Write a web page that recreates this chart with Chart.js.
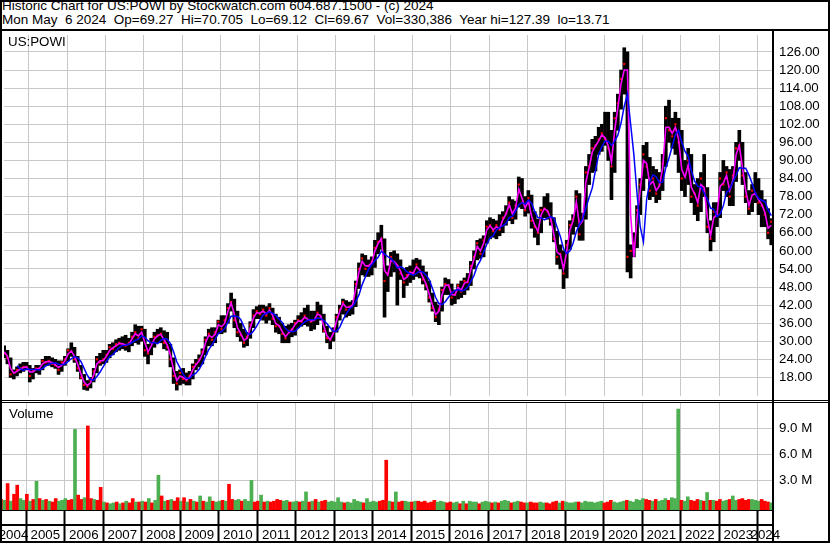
<!DOCTYPE html>
<html><head><meta charset="utf-8">
<script src="https://cdn.jsdelivr.net/npm/chart.js@4.4.1/dist/chart.umd.min.js"></script>
<style>
html,body{margin:0;padding:0;background:#fff;}
body{width:830px;height:543px;position:relative;overflow:hidden;font-family:"Liberation Sans",Arial,sans-serif;color:#000;}
.abs{position:absolute;}
#hdr{left:2px;top:-1px;font-size:13.5px;line-height:13.7px;white-space:pre;}
.lbl{font-size:13.33px;line-height:15px;white-space:pre;}
.blk{background:#000;}
</style></head><body>
<div id="hdr" class="abs">Historic Chart for US:POWI by Stockwatch.com 604.687.1500 - (c) 2024
Mon May  6 2024  Op=69.27  Hi=70.705  Lo=69.12  Cl=69.67  Vol=330,386  Year hi=127.39  lo=13.71</div>
<canvas id="pc" class="abs" width="830" height="369" style="left:0;top:31px"></canvas>
<canvas id="vc" class="abs" width="830" height="140" style="left:0;top:403px"></canvas>
<div class="abs lbl" style="left:8px;top:34px">US:POWI</div>
<div class="abs lbl" style="left:9px;top:406px">Volume</div>
<div class="abs blk" style="left:0;top:29px;width:830px;height:2px"></div>
<div class="abs blk" style="left:0;top:400px;width:830px;height:1px"></div>
<div class="abs blk" style="left:0;top:402px;width:830px;height:1px"></div>
<div class="abs blk" style="left:772px;top:29px;width:2px;height:514px"></div>
<div class="abs" style="left:0;top:0;width:830px;height:543px;border:2px solid #000;box-sizing:border-box"></div>
<script>
// ---- data (monthly, May 2004 .. May 2024) ----
const high = [
28.5,27,24.5,20.5,21.5,22.5,23,23,
22,21,22,22,24,25,25,24.5,24,23.5,23.5,25,
27.5,29.5,28,25,22,19,17,18,21,25,26,27,
27,29,29.5,30.5,31,31.5,32,31,33,35.5,35,35,
34,29,31,33,34,34.5,33.5,33,29,24.5,20,20.5,
21,19.5,20,22.5,24,25.5,27.5,31.5,34,34.5,34.5,37,
38.5,38.5,42.5,46,44,40,36,34,33,36.5,40.5,41.5,
42,42,41.5,42.5,41,39,38,36,35,35.5,36,37,
38.5,39.5,41,42,40,40,43,42,39,35,33,34.5,
39,42,44,43.5,43,43.5,50,56,59,58.5,57,58,
63.5,66,68.5,64,55,59.5,60,59,57,54,54.5,55,
57,57.5,57,55,53,50,46,43,42,48,51,50.5,
49,47,49,50,51,52.5,56.5,60,63.5,64,65,70,
71,70.5,70,72,73,75,78,77,76.5,84.5,84,78,
80,78.5,73,70.5,74.5,78,79,76,71,66.5,62,60,
63.5,70,72,80,79,72.5,88,92,97,98,101,102,
106,106,100,106,112,120,127.39,126,62,66,75,84,
95,96,91,88,87,86,92,108,110,104,106,104,
100,90,94,92,82,84,86,92,81,70,76,76,
86,90,88,87,88,96,100,96,86,80,82,86,
84,80,77,74,70.7
];
const low = [
24.5,22.5,18,17.5,18.5,19.5,20,20.5,
16.5,17.5,19.5,19,20.5,22,22,21.5,21,19,20,22,
23.5,25,23,20,17.5,14,13.71,14.5,16.5,19.5,22,22.5,
23,24.5,25.5,26.5,27,27.5,27,26.5,28.5,29.5,29,30,
25,22.5,25.5,28,29.5,29.5,27.5,27,21.5,16,13.8,15.5,
16,15.5,15.5,17.5,20.5,21.5,22.5,25.5,28.5,28.5,29.5,32.5,
32.5,33,36,40,34.5,31.5,30,28,28.5,31,34.5,37.5,
37.5,37,36,37,35.5,33,32.5,29.5,29.5,29.5,31.5,32,
34.5,35,35.5,35,33.5,34,35.5,37,33,29.5,27.5,30,
33,37,39,38,38.5,39,41.5,47.5,52,51.5,51.5,52,
54.5,59,60.5,38,46.5,51.5,53,42,50.5,44.5,48.5,49.5,
50.5,51.5,51,49,47,43,40,36.5,35.5,40,45.5,45.5,
42,42.5,44,44.5,45.5,47,48.5,54,57,57.5,58,62.5,
64,64.5,64,65,66,68.5,70,69,70.5,74.5,74,71.5,
72.5,67.5,64.5,62,66,71,70.5,68.5,63,55.5,54,47.5,
51,60.5,65.5,68,63.5,63.5,70.5,82,86,86.5,92,93,
95,90,77,86,100,107,112,53,51,58,61,72,
80,84,77,78,76,77,80,88,96,94,92,86,
80,78,82,76,72,70,73,78,66,60,63,68,
71,80,78,75,75,83,90,82,76,72,73,76,
72,68,68,64,62
];
const close = [
26,24.5,19,19.5,20.5,21,21.5,21.5,
18.5,20.5,21,21,23.5,23,23.5,22.5,22,20.5,23,24,
27,26.5,24,21,18,15.5,15,17,20,24,23,24,
25.5,28,27.5,29,29.5,29,28.5,29.5,31.5,33,31,34,
27,26,29.5,31.5,32,32.5,29.5,28,24,18.5,16,19.5,
17.5,17,18.5,21.5,22.5,24,26.5,30.5,32.5,30.5,33,36.5,
34,37,41,43,37,33,32,29.5,31.5,35.5,38.5,40,
39,40.5,38.5,41,37.5,35,35,32.5,31,33.5,34,36,
37,36.5,38.5,37,36.5,37,39.5,38,33.5,31,30.5,33.5,
38,40.5,43,40.5,41.5,42,49,54,57.5,54,55,56.5,
61,63,64,50,52.5,58,56,55,52.5,49.5,52,53,
52.5,55.5,53,50.5,48.5,44.5,41,38,40.5,47,49,48.5,
44.5,45.5,48.5,46.5,50,49.5,55,58,62.5,59,63.5,68,
68.5,66.5,68.5,67,71,72.5,76,71,75,82,76,73.5,
77.5,70,68,66,73.5,74,73,70,64,58,59,52.5,
62,68.5,70.5,78,65.5,71,86,88,94,95,97,99,
97,94,88,104,109,117,122,58,60,62.5,73.5,82,
92,88,80,84,79,82,89,104,100,98,102,96,
84,85,90,78,79,75,84,80,68,64,73,72,
84,82,86,78,85,94,95,85,78,74,80,79,
76,75,72,66,69.67
];
const maShort = [
26.5,25,21,19.5,20,20.8,21.3,21.5,
19.8,19.8,20.7,21,22.5,23.2,23.3,23,22.2,21.3,22,23.5,
25.8,26.8,25,22.3,19.2,16.5,15.3,16.2,18.8,22.5,23.5,23.6,
25,27,27.8,28.5,29.3,29.2,28.8,29,30.8,32.5,31.8,33,
29.5,26.5,28.5,30.8,31.8,32.3,30.5,28.8,25.5,20.5,17,18.5,
18,17.2,18,20.5,22.2,23.5,25.7,29.5,32,31.3,32.3,35.5,
34.8,36,40,42.7,39,34.5,32.5,30.3,31,34.5,37.8,39.5,
39.3,40,39,40.3,38.5,35.8,35.2,33.2,31.5,32.8,33.8,35.5,
36.7,36.7,38,37.3,36.7,37,39,38.5,35,31.8,30.5,32.7,
36.8,40,42.5,41.3,41.3,42,47.5,53,56.5,55,55,56,
60,62.5,64,53.5,52,56.8,56.5,55.3,53.3,50.5,51.3,52.8,
52.7,54.8,53.7,51.3,49,45.5,42,38.8,40,45.5,48.5,48.7,
45.5,45.3,47.8,47,49.3,49.7,53.8,57.3,61.5,60,62.5,67,
68.3,67,68,67.3,70.3,72.2,75.3,72.3,74.3,80.5,77.5,74.2,
76.5,71.5,68.5,66.5,72,74,73.3,70.7,65.3,59.5,58.8,54,
59.8,67,70,76.3,68.5,70,83,87.5,92.8,94.8,96.5,98.5,
97.5,94.8,89.5,100,107.5,115.5,120,120,72,58,71,80,
90,89,82,83,80,81.5,87.5,101,101,99,101,97,
87,84.5,88.5,81,79,76,82,81,71,65,71,72,
81.5,82.5,85,80,83.5,92,95,87.5,80,75,78.5,79,
77,75.5,72.8,67.5,68.5
];
const maLong = [
null,null,null,null,21.9,20.9,20.3,20.8,
20.6,20.6,20.6,20.5,20.9,21.8,22.4,22.7,22.9,22.3,22.3,22.4,
23.3,24.2,24.9,24.5,23.3,21,18.7,17.3,17.1,18.3,19.8,21.6,
23.3,24.9,25.6,26.8,27.9,28.6,28.7,29.1,29.6,30.3,30.7,31.8,
31.3,30.2,29.5,29.6,29.2,30.3,31,30.7,29.2,26.5,23.2,21.2,
19.1,17.7,17.7,18.8,19.4,20.7,22.6,25,27.2,28.8,30.6,32.6,
33.3,34.2,36.3,38.3,38.4,38.2,37.2,34.9,32.6,32.3,33.4,35,
36.9,38.7,39.3,39.8,39.3,38.5,37.4,36.2,34.2,33.4,33.2,33.4,
34.3,35.4,36.4,37,37.1,37.1,37.7,37.6,36.9,35.8,34.5,33.3,
33.3,34.7,37.1,39.1,40.7,41.5,43.2,45.4,48.8,51.3,53.9,55.4,
56.8,57.9,59.9,58.9,58.1,57.5,56.1,54.3,54.8,54.2,53,52.4,
51.9,52.5,53.2,52.9,52,50.4,47.5,44.5,42.5,42.2,43.1,44.6,
45.9,46.9,47.2,46.7,47,48,49.9,51.8,55,56.8,59.6,62.2,
64.3,65.1,67,67.7,68.3,69.1,71,71.5,73.1,75.3,76,75.5,
76.8,75.8,73,71,71,70.3,70.9,71.3,70.9,67.8,64.8,60.7,
59.1,60,62.5,66.3,68.9,70.7,74.2,77.7,80.9,86.8,92,94.6,
96.4,96.4,95,96.4,98.4,102.4,108,112,102,92,79,68,
63,77,83.1,85.2,84.6,82.6,82.8,87.6,90.8,94.6,98.6,100,
96,93,91.4,86.6,83.2,81.4,81.2,79.2,77.2,74.2,73.8,71.4,
72.2,75,79.4,80.4,83,85,87.6,87.4,87.4,85.2,82.4,79.2,
77.4,76.8,76.4,73.6,71.7
];
const volume = [ // millions
0.8,0.7,2.64,0.6,1.4,2.45,0.9,0.7,
1.4,0.6,0.8,2.9,0.9,0.7,0.8,0.6,0.5,0.9,0.6,0.7,
0.9,0.7,0.8,8.9,1.3,0.8,1.0,9.3,0.9,0.8,0.7,2.2,
0.5,0.4,0.3,0.4,0.5,0.3,0.4,0.6,0.4,0.9,0.5,0.5,
0.6,0.5,0.9,0.4,0.7,3.6,1.2,0.6,0.7,0.8,0.6,1.0,
0.6,1.0,0.5,0.8,0.6,0.5,1.2,0.6,0.5,1.1,0.6,0.5,
0.6,0.7,0.6,2.56,0.8,0.7,0.8,0.6,0.8,0.6,3.0,0.5,
0.6,1.3,0.5,0.6,0.5,0.6,0.8,0.7,0.6,0.7,0.5,0.5,
0.6,0.5,0.6,1.67,0.5,0.6,0.8,0.5,0.6,0.7,0.5,0.6,
0.5,1.0,0.5,0.4,0.5,0.4,0.8,0.6,0.5,0.4,0.9,0.5,
0.6,0.5,0.6,0.7,5.34,0.6,0.5,1.67,0.5,0.6,0.6,0.5,
0.5,0.6,0.6,0.5,0.6,0.4,0.5,0.7,0.5,0.6,0.5,0.4,
0.5,0.4,0.5,0.3,0.6,0.3,0.6,0.5,0.5,0.3,0.5,0.6,
0.5,0.4,0.5,0.4,0.6,0.7,0.6,0.4,0.5,0.6,0.5,0.4,
0.4,0.5,0.4,0.4,0.5,0.4,0.4,0.3,0.5,0.6,0.4,0.6,
0.5,0.4,0.4,0.5,0.5,0.4,0.6,0.5,0.5,0.4,0.5,0.6,
0.4,0.5,0.7,0.5,0.4,0.5,0.6,0.7,0.6,0.5,0.8,0.7,
0.9,0.8,0.7,0.6,0.8,0.6,0.7,0.9,0.7,1.0,0.9,11.25,
0.7,0.6,1.1,0.7,0.6,0.8,0.7,0.6,1.6,0.7,0.7,0.6,
0.8,0.6,0.7,0.8,1.2,0.7,0.8,0.9,0.7,0.8,0.8,0.7,
0.6,0.8,0.6,0.5,0.4
];
const volumeUp = [ // 1 = up period, 0 = down period
0,1,0,1,0,0,1,1,
0,1,0,1,0,1,0,1,0,0,1,1,
1,0,0,1,0,0,1,0,0,1,0,0,
1,0,1,1,0,1,0,1,0,0,1,0,
1,0,1,0,1,1,0,1,0,1,0,0,
1,0,1,0,1,0,1,0,1,1,0,1,
1,0,1,0,0,1,1,0,1,1,1,0,
0,1,0,1,0,0,0,0,1,1,0,1,
1,0,1,1,0,1,0,1,0,0,1,1,
1,1,1,0,1,1,1,1,1,0,1,1,
1,1,0,0,0,1,0,1,0,0,1,1,
0,1,0,0,0,0,0,0,1,1,1,0,
0,1,1,0,1,0,1,1,1,0,1,1,
1,0,1,0,1,1,1,0,1,1,0,0,
1,0,0,0,1,1,0,0,0,0,1,0,
1,1,1,1,0,1,1,1,1,1,1,1,
0,0,0,1,1,1,1,0,1,1,1,1,
1,0,0,1,0,1,1,1,0,1,1,1,
0,1,1,0,0,0,1,0,1,0,1,0,
0,1,1,0,1,1,0,0,0,0,1,1,
1,0,0,0,1
];
const yearBoundaries = [2005,2006,2007,2008,2009,2010,2011,2012,2013,2014,2015,2016,2017,2018,2019,2020,2021,2022,2023,2024];
const yearLabels = ['2004','2005','2006','2007','2008','2009','2010','2011','2012','2013','2014','2015','2016','2017','2018','2019','2020','2021','2022','2023','2024'];
const priceTicks = [18,24,30,36,42,48,54,60,66,72,78,84,90,96,102,108,114,120,126];
const volumeTicks = [3,6,9];

// ---- layout ----
const firstMonth = 2004.355;             // May 2004
const xMin = 2004.35, xMax = 2024.40;
const T = close.map((_, i) => firstMonth + i / 12);
const labelCenters = yearLabels.map(y => { const a = Math.max(+y, xMin), b = Math.min(+y + 1, xMax); return (a + b) / 2; });

Chart.defaults.font.family = '"Liberation Sans", Arial, sans-serif';
Chart.defaults.font.size = 13.3;
Chart.defaults.color = '#000';
const GRID = '#c8c8c8';

const xGrid = (extra) => Object.assign({
  type: 'linear', min: xMin, max: xMax, offset: false,
  afterBuildTicks: s => { s.ticks = yearBoundaries.map(v => ({ value: v })); },
  ticks: { display: false },
}, extra);

new Chart(document.getElementById('pc'), {
  type: 'bar',
  data: { datasets: [
    { type: 'line', data: T.map((t, i) => ({ x: t, y: maLong[i] })), borderColor: '#0000ff', borderWidth: 1.5, pointRadius: 0, order: 1 },
    { type: 'line', data: T.map((t, i) => ({ x: t, y: maShort[i] })), borderColor: '#ff00ff', borderWidth: 1.6, pointRadius: 0, order: 2 },
    { type: 'line', data: T.map((t, i) => ({ x: t, y: close[i] })), showLine: false, pointStyle: 'rect', pointRadius: 1.5, pointBorderWidth: 0, pointBackgroundColor: '#ff0000', order: 3 },
    { type: 'bar', data: T.map((t, i) => ({ x: t, y: [low[i], high[i]] })), backgroundColor: '#000', barThickness: 3, order: 4 }
  ]},
  options: {
    responsive: false, animation: false, devicePixelRatio: 1,
    layout: { padding: { left: 1, right: 0, top: 0, bottom: 0 } },
    plugins: { legend: { display: false }, tooltip: { enabled: false } },
    scales: {
      x: xGrid({ grid: { color: GRID, lineWidth: 1, drawTicks: false, offset: false }, border: { display: false },
                 afterFit: s => { s.height = 0; s.paddingLeft = 0; s.paddingRight = 0; } }),
      y: { type: 'linear', position: 'right', min: 11.84, max: 131.62,
           afterBuildTicks: s => { s.ticks = priceTicks.map(v => ({ value: v })); },
           ticks: { callback: v => v.toFixed(2), padding: 6, autoSkip: false },
           grid: { color: GRID, lineWidth: 1, drawTicks: false },
           border: { display: true, color: '#000', width: 2 },
           afterFit: s => { s.width = 57; s.paddingTop = 0; s.paddingBottom = 0; } }
    }
  }
});

new Chart(document.getElementById('vc'), {
  type: 'bar',
  data: { datasets: [
    { data: T.map((t, i) => ({ x: t, y: volume[i] })), backgroundColor: volumeUp.map(u => u ? '#4caf50' : '#ff0000'), barThickness: 3, base: -0.42 }
  ]},
  options: {
    responsive: false, animation: false, devicePixelRatio: 1,
    layout: { padding: { left: 1, right: 0, top: 0, bottom: 0 } },
    plugins: { legend: { display: false }, tooltip: { enabled: false } },
    scales: {
      x: xGrid({ position: 'bottom', weight: 0,
                 grid: { color: GRID, lineWidth: 1, drawTicks: true, tickLength: 31, tickColor: '#000', tickWidth: 2, offset: false },
                 border: { display: true, color: '#000', width: 2 },
                 afterFit: s => { s.height = 15; s.paddingLeft = 0; s.paddingRight = 0; } }),
      xl: { type: 'linear', position: 'bottom', weight: 1, min: xMin, max: xMax, offset: false,
            afterBuildTicks: s => { s.ticks = labelCenters.map(v => ({ value: v })); },
            ticks: { autoSkip: false, maxRotation: 0, padding: 2, callback: (v, i) => yearLabels[i] },
            grid: { display: false, drawTicks: false, offset: false },
            border: { display: true, color: '#000', width: 2 },
            afterFit: s => { s.height = 18; s.paddingLeft = 0; s.paddingRight = 0; } },
      y: { type: 'linear', position: 'right', min: -0.42, max: 11.95,
           afterBuildTicks: s => { s.ticks = volumeTicks.map(v => ({ value: v })); },
           ticks: { callback: v => v.toFixed(1) + ' M', padding: 6, autoSkip: false },
           grid: { color: GRID, lineWidth: 1, drawTicks: false },
           border: { display: true, color: '#000', width: 2 },
           afterFit: s => { s.width = 57; s.paddingTop = 0; s.paddingBottom = 0; } }
    }
  }
});
</script>
</body></html>
